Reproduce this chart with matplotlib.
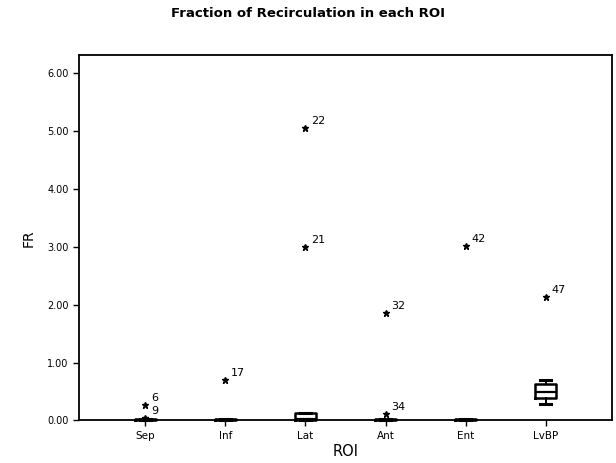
import matplotlib
matplotlib.use("Agg")
import matplotlib.pyplot as plt

categories = ["Sep", "Inf", "Lat", "Ant", "Ent", "LvBP"]
whislo = [0.00, 0.00, 0.00, 0.00, 0.00, 0.28]
q1 = [0.00, 0.00, 0.00, 0.00, 0.00, 0.38]
med = [0.01, 0.01, 0.03, 0.01, 0.01, 0.50]
q3 = [0.03, 0.03, 0.13, 0.03, 0.03, 0.63]
whishi = [0.03, 0.03, 0.13, 0.03, 0.03, 0.70]
outlier_cat = [1, 1, 2, 3, 3, 4, 4, 5, 6]
outlier_val = [0.27, 0.04, 0.70, 5.05, 3.00, 1.86, 0.11, 3.01, 2.13]
outlier_lab = ["6", "9", "17", "22", "21", "32", "34", "42", "47"]
yticks = [0, 1, 2, 3, 4, 5, 6]

fig = plt.figure(figsize=(6.16, 4.63), dpi=100)
ax = fig.add_axes([0.1282, 0.0918, 0.8653, 0.7894])

stats = []
for i, c in enumerate(categories):
    stats.append(dict(label=c, whislo=whislo[i], q1=q1[i], med=med[i],
                      q3=q3[i], whishi=whishi[i], fliers=[]))
parts = ax.bxp(stats, positions=range(1, len(categories) + 1), widths=0.26,
               showfliers=False,
               boxprops=dict(color="black", linewidth=1.8),
               medianprops=dict(color="black", linewidth=1.6),
               whiskerprops=dict(color="black", linewidth=1.4),
               capprops=dict(color="black", linewidth=2.2))
for key in ("boxes", "medians", "whiskers", "caps"):
    for art in parts[key]:
        art.set_clip_on(False)
        art.set_zorder(3)

ax.plot(outlier_cat, outlier_val, linestyle="none", marker="*",
        color="black", markersize=5, clip_on=False, zorder=4)
for xc, yv, lab in zip(outlier_cat, outlier_val, outlier_lab):
    ax.annotate(lab, (xc, yv), xytext=(4, 3), textcoords="offset points",
                fontsize=8, color="black")

ax.set_xlim(0.17, 6.83)
ax.set_ylim(0, 6.31)
ax.set_yticks(yticks)
ax.set_yticklabels([f"{v:.2f}" for v in yticks], fontsize=7)
ax.set_xticks(range(1, len(categories) + 1))
ax.set_xticklabels(categories, fontsize=7.5)
ax.tick_params(axis="both", direction="out", length=4, width=1, colors="black")
for s in ax.spines.values():
    s.set_linewidth(1.3)
    s.set_color("black")

ax.set_ylabel("FR", fontsize=10, labelpad=8)
ax.set_xlabel("ROI", fontsize=10.5, labelpad=2, fontweight="medium")
fig.text(0.5, 0.97, "Fraction of Recirculation in each ROI", ha="center",
         va="center", fontsize=9.5, fontweight="bold")

fig.savefig("out.png", dpi=100)
